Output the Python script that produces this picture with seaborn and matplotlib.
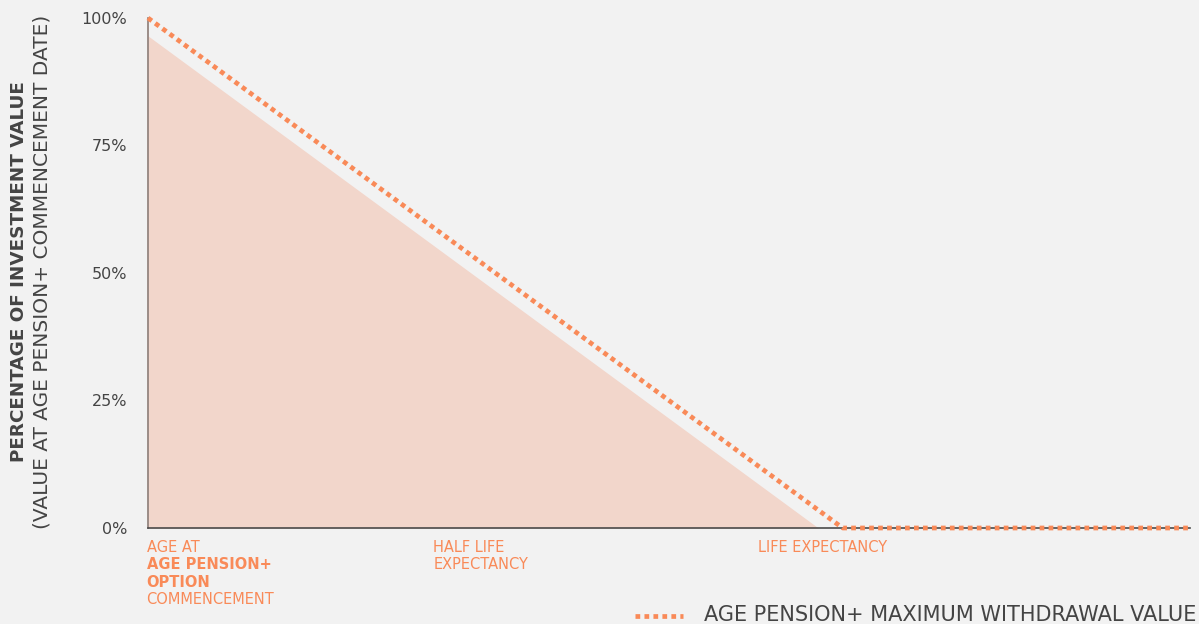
import matplotlib
matplotlib.use("Agg")
import matplotlib.pyplot as plt
from matplotlib.lines import Line2D
import seaborn as sns
import pandas as pd

# ---- data ----
years = [0, 20, 30]
max_withdrawal = [100, 0, 0]
fill_years = [0, 19.3]
fill_values = [96.5, 0]
y_ticks = [0, 25, 50, 75, 100]
y_tick_labels = ["0%", "25%", "50%", "75%", "100%"]
x_label_pos = [0, 8.25, 17.6]
x_labels = [
    [("AGE AT", "normal"), ("AGE PENSION+", "bold"), ("OPTION", "bold"), ("COMMENCEMENT", "normal")],
    [("HALF LIFE", "normal"), ("EXPECTANCY", "normal")],
    [("LIFE EXPECTANCY", "normal")],
]
series_name = "AGE PENSION+ MAXIMUM WITHDRAWAL VALUE"
ylabel1 = "PERCENTAGE OF INVESTMENT VALUE"
ylabel2 = "(VALUE AT AGE PENSION+ COMMENCEMENT DATE)"

BG = "#f2f2f2"
ORANGE = "#f98a58"
FILL = "#f2d6cb"
TEXT = "#444444"

sns.set_theme(style="white")
plt.rcParams["font.family"] = ["DejaVu Sans"]

fig = plt.figure(figsize=(11.99, 6.24), dpi=100, facecolor=BG)
ax = fig.add_axes([148 / 1199, 1 - 528 / 624, (1190 - 148) / 1199, (528 - 18) / 624])
ax.set_facecolor(BG)

ax.fill_between(fill_years, fill_values, 0, color=FILL, linewidth=0, zorder=1)

df = pd.DataFrame({"year": years, "value": max_withdrawal})
sns.lineplot(data=df, x="year", y="value", ax=ax, color=ORANGE, linewidth=3.4,
             linestyle=(0, (1, 0.9)), zorder=3, legend=False)
for l in ax.lines:
    l.set_dash_capstyle("butt")
    l.set_clip_on(False)

ax.set_xlim(0, 30)
ax.set_ylim(0, 100)
ax.set_xticks([])
ax.set_yticks(y_ticks)
ax.set_yticklabels(y_tick_labels, fontsize=11.5, color=TEXT)
ax.tick_params(axis="y", length=0, pad=15)
ax.set_xlabel("")
ax.set_ylabel("")
for s in ["top", "right"]:
    ax.spines[s].set_visible(False)
for s in ["left", "bottom"]:
    ax.spines[s].set_color("#4a4a4a")
    ax.spines[s].set_linewidth(1.2)
    ax.spines[s].set_zorder(2)
ax.spines["left"].set_color("#8c7c76")

# x category labels
for xp, lines in zip(x_label_pos, x_labels):
    for i, (txt, w) in enumerate(lines):
        ax.annotate(txt, xy=(xp, 0), xycoords=("data", "axes fraction"),
                    xytext=(-1, -13.7 - 12.6 * i), textcoords="offset points",
                    ha="left", va="center", fontsize=10.5, color=ORANGE,
                    fontweight=w, annotation_clip=False)

# y labels
yc = 1 - 272 / 624
fig.text(19 / 1199, yc, ylabel1, rotation=90, ha="center", va="center",
         fontsize=13.2, fontweight="bold", color=TEXT)
fig.text(42 / 1199, yc, ylabel2, rotation=90, ha="center", va="center",
         fontsize=14.5, color=TEXT)

# legend
fig.lines.append(Line2D([635 / 1199, 683 / 1199], [1 - 616 / 624] * 2,
                        transform=fig.transFigure, color=ORANGE, linewidth=3.4,
                        linestyle=(0, (1, 0.9)), dash_capstyle="butt"))
fig.text(704 / 1199, 1 - 615 / 624, series_name, ha="left", va="center",
         fontsize=15, color=TEXT)

fig.savefig("out.png", dpi=100, facecolor=BG)
